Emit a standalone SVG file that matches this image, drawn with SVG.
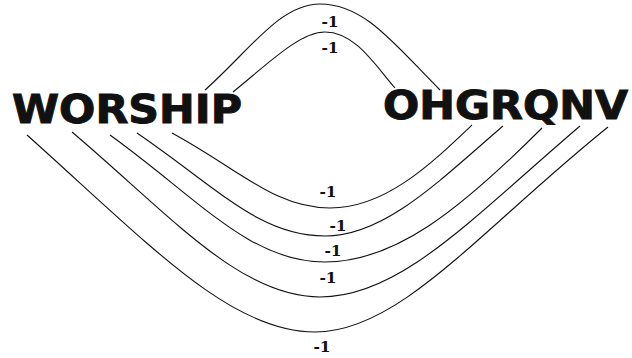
<svg xmlns="http://www.w3.org/2000/svg" width="632" height="358" viewBox="0 0 632 358">
  <style>
    .node { font-family: "DejaVu Sans", Verdana, sans-serif; font-weight: bold; font-size: 39px; fill: #111; stroke: #111; stroke-width: 1; }
    .edge { fill: none; stroke: #111; stroke-width: 1.1; }
    .lbl { font-family: "DejaVu Serif", "Liberation Serif", serif; font-weight: bold; font-size: 15.5px; fill: #111; text-anchor: middle; }
  </style>
  <rect width="632" height="358" fill="#fff"/>
  <g id="connectors">
    <path class="edge" d="M205,90 C250,50 280,4 320,4 C365,4 395,45 440,90"/>
    <path class="edge" d="M233,92 C270,62 300,32 325,32 C355,32 375,65 395,88"/>
    <path class="edge" d="M27,135 C150,245 230,332 315,332 C400,332 480,230 608,127"/>
    <path class="edge" d="M72,132 C170,215 240,297 320,297 C400,297 470,220 580,126"/>
    <path class="edge" d="M110,135 C200,200 250,262 325,262 C395,262 460,210 542,128"/>
    <path class="edge" d="M137,133 C220,190 260,236 325,236 C385,236 440,180 503,126"/>
    <path class="edge" d="M172,133 C240,170 275,208 330,208 C385,208 430,165 472,125"/>
    <text class="lbl" x="330" y="27">-1</text>
    <text class="lbl" x="330" y="53">-1</text>
    <text class="lbl" x="328" y="197">-1</text>
    <text class="lbl" x="338" y="231">-1</text>
    <text class="lbl" x="333" y="256">-1</text>
    <text class="lbl" x="328" y="283">-1</text>
    <text class="lbl" x="322" y="352">-1</text>
  </g>
  <g id="node-worship">
    <text class="node" x="12" y="123" textLength="230" lengthAdjust="spacingAndGlyphs">WORSHIP</text>
  </g>
  <g id="node-ohgrqnv">
    <text class="node" x="383" y="119" textLength="245" lengthAdjust="spacingAndGlyphs">OHGRQNV</text>
  </g>
</svg>
